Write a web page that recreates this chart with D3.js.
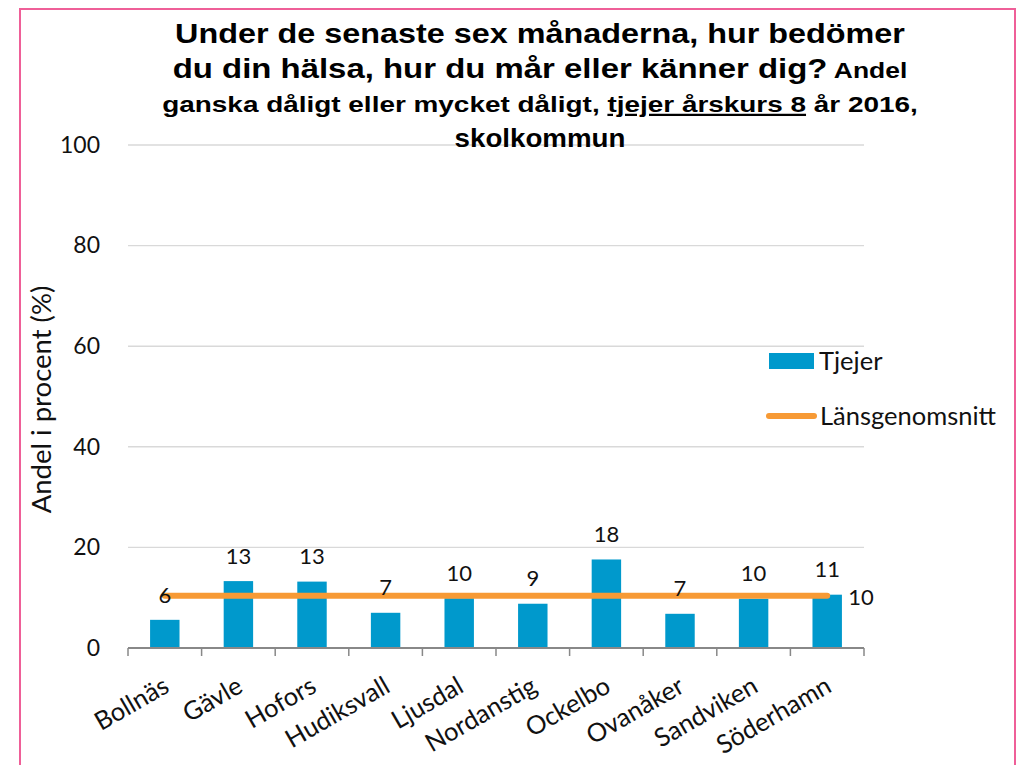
<!DOCTYPE html>
<html>
<head>
<meta charset="utf-8">
<script src="https://cdn.jsdelivr.net/npm/d3@7"></script>
<style>
  html, body { margin: 0; padding: 0; background: #fff; }
  svg { display: block; }
</style>
</head>
<body>
<svg id="chart" width="1022" height="765"></svg>
<script>
// Kommuner (kategorier) och andel tjejer i procent
const kommuner = ["Bollnäs", "Gävle", "Hofors", "Hudiksvall", "Ljusdal", "Nordanstig", "Ockelbo", "Ovanåker", "Sandviken", "Söderhamn"];
const tjejer = [5.6, 13.3, 13.2, 7.0, 9.9, 8.8, 17.6, 6.8, 9.8, 10.6];
const lansgenomsnitt = [10.4, 10.4, 10.4, 10.4, 10.4, 10.4, 10.4, 10.4, 10.4, 10.4];
const yTicks = [0, 20, 40, 60, 80, 100];
const seriesNames = ["Tjejer", "Länsgenomsnitt"];

const barColor = "#0099cc";
const lineColor = "#f79a35";
const labelFont = "Lato, 'Open Sans', sans-serif";
const titleFont = "'Liberation Sans', Arial, sans-serif";
const textColor = "#111";

const svg = d3.select("#chart");

// Ram runt diagrammet
svg.append("rect")
  .attr("x", 20).attr("y", 9)
  .attr("width", 995).attr("height", 820)
  .attr("fill", "none")
  .attr("stroke", "#ef5f98")
  .attr("stroke-width", 2);

const plot = { left: 128, right: 864, top: 145, bottom: 648 };

const x = d3.scaleBand()
  .domain(kommuner)
  .range([plot.left, plot.right])
  .paddingInner(0.6)
  .paddingOuter(0.3);

const y = d3.scaleLinear()
  .domain([0, 100])
  .range([plot.bottom, plot.top]);

const step = x.step();
const boundaries = d3.range(kommuner.length + 1).map(i => plot.left + i * step);
const cx = i => x(kommuner[i]) + x.bandwidth() / 2;

// Stödlinjer
svg.append("g")
  .selectAll("line")
  .data(yTicks.filter(t => t > 0))
  .join("line")
  .attr("x1", plot.left).attr("x2", plot.right)
  .attr("y1", d => y(d)).attr("y2", d => y(d))
  .attr("stroke", "#d9d9d9")
  .attr("stroke-width", 1.4);

// Y-axel: endast etiketter
const yAxis = d3.axisLeft(y).tickValues(yTicks).tickSize(0).tickPadding(0);
const yAxisG = svg.append("g")
  .attr("transform", "translate(100,0)")
  .call(yAxis);
yAxisG.select(".domain").remove();
yAxisG.selectAll("text")
  .attr("font-family", labelFont)
  .attr("font-size", 23)
  .attr("fill", textColor);

// Y-axelns rubrik
svg.append("text")
  .attr("transform", `translate(51,${(y(0) + y(100)) / 2 + 3}) rotate(-90)`)
  .attr("text-anchor", "middle")
  .attr("font-family", labelFont)
  .attr("font-size", 27.5)
  .attr("fill", textColor)
  .text("Andel i procent (%)");

// Staplar
svg.append("g")
  .selectAll("rect")
  .data(tjejer)
  .join("rect")
  .attr("x", (d, i) => x(kommuner[i]))
  .attr("y", d => y(d))
  .attr("width", x.bandwidth())
  .attr("height", d => y(0) - y(d))
  .attr("fill", barColor);

// X-axel med skiljestreck
svg.append("line")
  .attr("x1", plot.left).attr("x2", plot.right)
  .attr("y1", plot.bottom).attr("y2", plot.bottom)
  .attr("stroke", "#888")
  .attr("stroke-width", 2);
svg.append("g")
  .selectAll("line")
  .data(boundaries)
  .join("line")
  .attr("x1", d => d).attr("x2", d => d)
  .attr("y1", plot.bottom).attr("y2", plot.bottom + 8)
  .attr("stroke", "#888")
  .attr("stroke-width", 1.5);

// Kategorietiketter, lutade
svg.append("g")
  .selectAll("text")
  .data(kommuner)
  .join("text")
  .attr("transform", (d, i) => `translate(${cx(i) + 6},691) rotate(-30)`)
  .attr("text-anchor", "end")
  .attr("font-family", labelFont)
  .attr("font-size", 25.5)
  .attr("fill", textColor)
  .text(d => d);

// Länsgenomsnitt som linje
const line = d3.line()
  .x((d, i) => cx(i))
  .y(d => y(d));
svg.append("path")
  .datum(lansgenomsnitt)
  .attr("d", line)
  .attr("fill", "none")
  .attr("stroke", lineColor)
  .attr("stroke-width", 6)
  .attr("stroke-linecap", "round");

// Dataetiketter för staplarna
const fmt = d3.format(".0f");
svg.append("g")
  .selectAll("text")
  .data(tjejer)
  .join("text")
  .attr("x", (d, i) => cx(i))
  .attr("y", d => y(d) - 25)
  .attr("dy", "0.35em")
  .attr("text-anchor", "middle")
  .attr("font-family", labelFont)
  .attr("font-size", 22)
  .attr("fill", textColor)
  .text(d => fmt(d));

// Etikett för länsgenomsnittet vid sista punkten
const lastIdx = lansgenomsnitt.length - 1;
svg.append("text")
  .attr("x", cx(lastIdx) + 21)
  .attr("y", y(lansgenomsnitt[lastIdx]) + 2)
  .attr("dy", "0.35em")
  .attr("font-family", labelFont)
  .attr("font-size", 22)
  .attr("fill", textColor)
  .text(fmt(lansgenomsnitt[lastIdx]));

// Teckenförklaring
const legend = svg.append("g");
legend.append("rect")
  .attr("x", 769).attr("y", 353).attr("width", 45).attr("height", 16)
  .attr("fill", barColor);
legend.append("text")
  .attr("x", 819).attr("y", 361).attr("dy", "0.35em")
  .attr("font-family", labelFont).attr("font-size", 25.5).attr("fill", textColor)
  .text(seriesNames[0]);
legend.append("line")
  .attr("x1", 769).attr("x2", 814).attr("y1", 416).attr("y2", 416)
  .attr("stroke", lineColor).attr("stroke-width", 6).attr("stroke-linecap", "round");
legend.append("text")
  .attr("x", 820).attr("y", 416).attr("dy", "0.35em")
  .attr("font-family", labelFont).attr("font-size", 25.5).attr("fill", textColor)
  .text(seriesNames[1]);

// Rubrik: varje rad sträcks i sidled till sin bredd
const titleLines = [
  { baseline: 43,  size: 28,   width: 730, parts: [{ t: "Under de senaste sex månaderna, hur bedömer" }] },
  { baseline: 78,  size: 28,   width: 735, parts: [{ t: "du din hälsa, hur du mår eller känner dig?" }, { t: " Andel", size: 22.5 }] },
  { baseline: 112, size: 22.5, width: 756, parts: [{ t: "ganska dåligt eller mycket dåligt, " }, { t: "tjejer årskurs 8", u: true }, { t: " år 2016," }] },
  { baseline: 147, size: 26,   width: 171, parts: [{ t: "skolkommun" }] }
];
const titleG = svg.append("g")
  .attr("font-family", titleFont)
  .attr("font-weight", "bold")
  .attr("fill", "#000");
titleLines.forEach(l => {
  const g = titleG.append("g");
  const txt = g.append("text")
    .attr("y", l.baseline)
    .attr("text-anchor", "middle")
    .attr("font-size", l.size);
  l.parts.forEach(p => {
    const ts = txt.append("tspan").text(p.t);
    if (p.size) ts.attr("font-size", p.size);
    if (p.u) ts.style("text-decoration", "underline");
  });
  const natural = txt.node().getComputedTextLength();
  g.attr("transform", `translate(540,0) scale(${l.width / natural},1)`);
});
</script>
</body>
</html>
